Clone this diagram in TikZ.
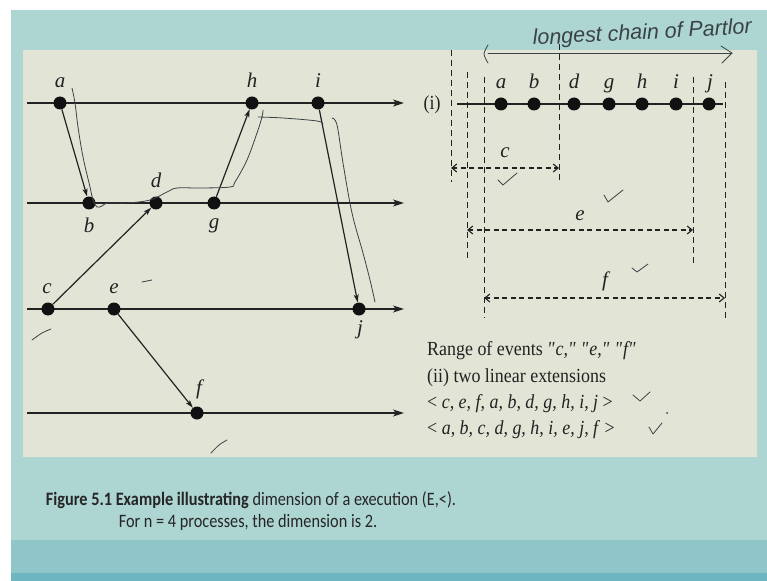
\documentclass[tikz,border=0pt]{standalone}
\usepackage{fontspec}
\setmainfont{Liberation Serif}
\newfontfamily\txtfont[FakeStretch=0.9]{Liberation Serif}
\newfontfamily\capfont[FakeStretch=0.86]{Carlito}
\newfontfamily\handfont{Liberation Sans}
\usetikzlibrary{arrows.meta}
\definecolor{slidebg}{HTML}{ADD5D2}
\definecolor{bandbg}{HTML}{8EC6CA}
\definecolor{stripbg}{HTML}{6DB6C0}
\definecolor{panelbg}{HTML}{E2E4D6}
\definecolor{ink}{HTML}{222222}
\definecolor{dotc}{HTML}{111111}
\definecolor{handc}{HTML}{3A4245}
\tikzset{
  dot/.style={circle,fill=dotc,inner sep=0pt,minimum size=13bp},
  lab/.style={anchor=base,inner sep=0pt,font=\fontsize{21}{21}\selectfont\itshape,text=ink},
  txt/.style={anchor=base west,inner sep=0pt,font=\txtfont\fontsize{20}{20}\selectfont,text=ink},
  proc/.style={draw=ink,line width=1.5bp,-{Stealth[length=11bp,width=7bp,inset=3bp]}},
  plain/.style={draw=ink,line width=1.5bp},
  msg/.style={draw=ink,line width=1.2bp,-{Stealth[length=8bp,width=5bp,inset=2bp]}},
  vdash/.style={draw=ink,line width=1bp,dash pattern=on 6bp off 4bp},
  dim/.style={draw=ink,line width=1.1bp,dash pattern=on 5bp off 3.5bp,
     {Straight Barb[length=5bp,width=8bp]}-{Straight Barb[length=5bp,width=8bp]}},
  hand/.style={draw=handc,line width=0.8bp,line cap=round,line join=round},
  captxt/.style={anchor=base,inner sep=0pt,font=\capfont\fontsize{19}{19}\selectfont,text=black!85}
}
\newcommand\qq[1]{\textit{\textquotedbl#1\textquotedbl}}
\begin{document}
\begin{tikzpicture}[x=1bp,y=-1bp]
\useasboundingbox (0,0) rectangle (767,581);
% background
\fill[white] (0,0) rectangle (767,581);
\fill[slidebg] (11,10) rectangle (767,581);
\fill[bandbg] (11,540) rectangle (767,581);
\fill[stripbg] (11,573) rectangle (767,581);
\fill[panelbg] (23,50) rectangle (757,457);

% ---------- left: process lines ----------
\coordinate (p1s) at (27,103);  \coordinate (p1e) at (404,103);
\coordinate (p2s) at (27,203);  \coordinate (p2e) at (404,203);
\coordinate (p3s) at (27,309);  \coordinate (p3e) at (404,309);
\coordinate (p4s) at (27,413);  \coordinate (p4e) at (404,413);
\draw[proc] (p1s) -- (p1e);
\draw[proc] (p2s) -- (p2e);
\draw[proc] (p3s) -- (p3e);
\draw[proc] (p4s) -- (p4e);

% events
\node[dot] (a) at (60,103) {};
\node[dot] (h) at (252,103) {};
\node[dot] (i) at (318,103) {};
\node[dot] (b) at (89,203) {};
\node[dot] (d) at (156,203) {};
\node[dot] (g) at (214,203) {};
\node[dot] (c) at (48,309) {};
\node[dot] (e) at (114,309) {};
\node[dot] (j) at (359,309) {};
\node[dot] (f) at (197,413) {};

% labels
\node[lab] (la) at (60,88) {a};
\node[lab] (lh) at (252,88) {h};
\node[lab] (li) at (318,88) {i};
\node[lab] (ld) at (156,188) {d};
\node[lab] (lb) at (89,232) {b};
\node[lab] (lg) at (214,229) {g};
\node[lab] (lc) at (47,293) {c};
\node[lab] (le) at (114,293) {e};
\node[lab] (lj) at (360,334) {j};
\node[lab] (lf) at (199,394) {f};

% messages
\draw[msg] (a) -- (b);
\draw[msg] (c) -- (d);
\draw[msg] (g) -- (h);
\draw[msg] (i) -- (j);
\draw[msg] (e) -- (f);

% ---------- right: linear extension (i) ----------
\node[txt,anchor=base] (roman) at (432,110) {(i)};
\coordinate (rls) at (457,104); \coordinate (rle) at (723,104);
\draw[plain] (rls) -- (rle);
\node[dot] (ra) at (501,104) {};
\node[dot] (rb) at (534,104) {};
\node[dot] (rd) at (574,104) {};
\node[dot] (rg) at (609,104) {};
\node[dot] (rh) at (642,104) {};
\node[dot] (ri) at (676,104) {};
\node[dot] (rj) at (709,104) {};
\node[lab] (lra) at (501,89) {a};
\node[lab] (lrb) at (534,89) {b};
\node[lab] (lrd) at (574,89) {d};
\node[lab] (lrg) at (609,89) {g};
\node[lab] (lrh) at (642,89) {h};
\node[lab] (lri) at (676,89) {i};
\node[lab] (lrj) at (710,89) {j};

% dashed verticals
\coordinate (v1t) at (451,50);  \coordinate (v1b) at (451,182);
\coordinate (v2t) at (467,72);  \coordinate (v2b) at (467,260);
\coordinate (v3t) at (484,77);  \coordinate (v3b) at (484,318);
\coordinate (v4t) at (559,44);  \coordinate (v4b) at (559,182);
\coordinate (v5t) at (693,77);  \coordinate (v5b) at (693,267);
\coordinate (v6t) at (725,82);  \coordinate (v6b) at (725,318);
\draw[vdash] (v1t) -- (v1b);
\draw[vdash] (v2t) -- (v2b);
\draw[vdash] (v3t) -- (v3b);
\draw[vdash] (v4t) -- (v4b);
\draw[vdash] (v5t) -- (v5b);
\draw[vdash] (v6t) -- (v6b);

% ranges
\coordinate (cl) at (451,168); \coordinate (cr) at (559,168);
\coordinate (el) at (467,230); \coordinate (er) at (693,230);
\coordinate (fl) at (484,298); \coordinate (fr) at (725,298);
\draw[dim] (cl) -- (cr);
\draw[dim] (el) -- (er);
\draw[dim] (fl) -- (fr);
\node[lab] (lrc) at (505,158) {c};
\node[lab] (lre) at (580,221) {e};
\node[lab] (lrf) at (605,286) {f};

% text block
\node[txt] (t1) at (427,355) {Range of events \qq{c,} \qq{e,} \qq{f}};
\node[txt] (t2) at (427,382) {(ii) two linear extensions};
\node[txt] (t3) at (427,408) {< \textit{c, e, f, a, b, d, g, h, i, j} >};
\node[txt] (t4) at (427,434) {< \textit{a, b, c, d, g, h, i, e, j, f} >};

% caption
\node[captxt] (cap1) at (251,505) {\textbf{Figure 5.1 Example illustrating} dimension of a execution (E,<).};
\node[captxt] (cap2) at (248,527) {For n = 4 processes, the dimension is 2.};

% ---------- handwritten annotations ----------
\draw[hand] plot[smooth,tension=0.6] coordinates {(72,88) (75,103) (78,127) (83,157) (90,187) (93,200) (97,207) (102,206) (108,203) (127,203) (150,200) (167,192) (177,188) (200,188) (230,187) (235,182) (247,160) (257,133) (262,117) (263,110)};
\draw[hand] plot[smooth,tension=0.6] coordinates {(258,117) (283,118) (317,121) (323,124)};
\draw[hand] plot[smooth,tension=0.6] coordinates {(332,118) (337,125) (343,163) (352,213) (363,253) (370,280) (375,302)};
\draw[hand] (142,282) -- (152,280);
\draw[hand] plot[smooth] coordinates {(32,340) (42,333) (51,329)};
\draw[hand] plot[smooth] coordinates {(211,453) (219,445) (227,440)};
% top chain bracket
\draw[hand] plot[smooth] coordinates {(488,45) (484,54) (488,63)};
\coordinate (chs) at (488,53); \coordinate (che) at (732,53);
\draw[hand] (chs) -- (che);
\draw[hand] (721,46) -- (732,53) -- (722,63);
\node[anchor=base west,inner sep=0pt,rotate=3,text=handc,font=\handfont\itshape\fontsize{21.5}{21.5}\selectfont] (chain) at (533,45) {longest chain of Partlor};
% ticks
\draw[hand] (498,180) -- (503,185) -- (517,173);
\draw[hand] (604,195) -- (608,202) -- (623,190);
\draw[hand] (632,268) -- (637,272) -- (648,264);
\draw[hand] (633,395) -- (640,401) -- (650,392);
\draw[hand] (649,427) -- (653,434) -- (662,423);
\fill[handc] (667,413) circle (1bp);
\end{tikzpicture}
\end{document}
